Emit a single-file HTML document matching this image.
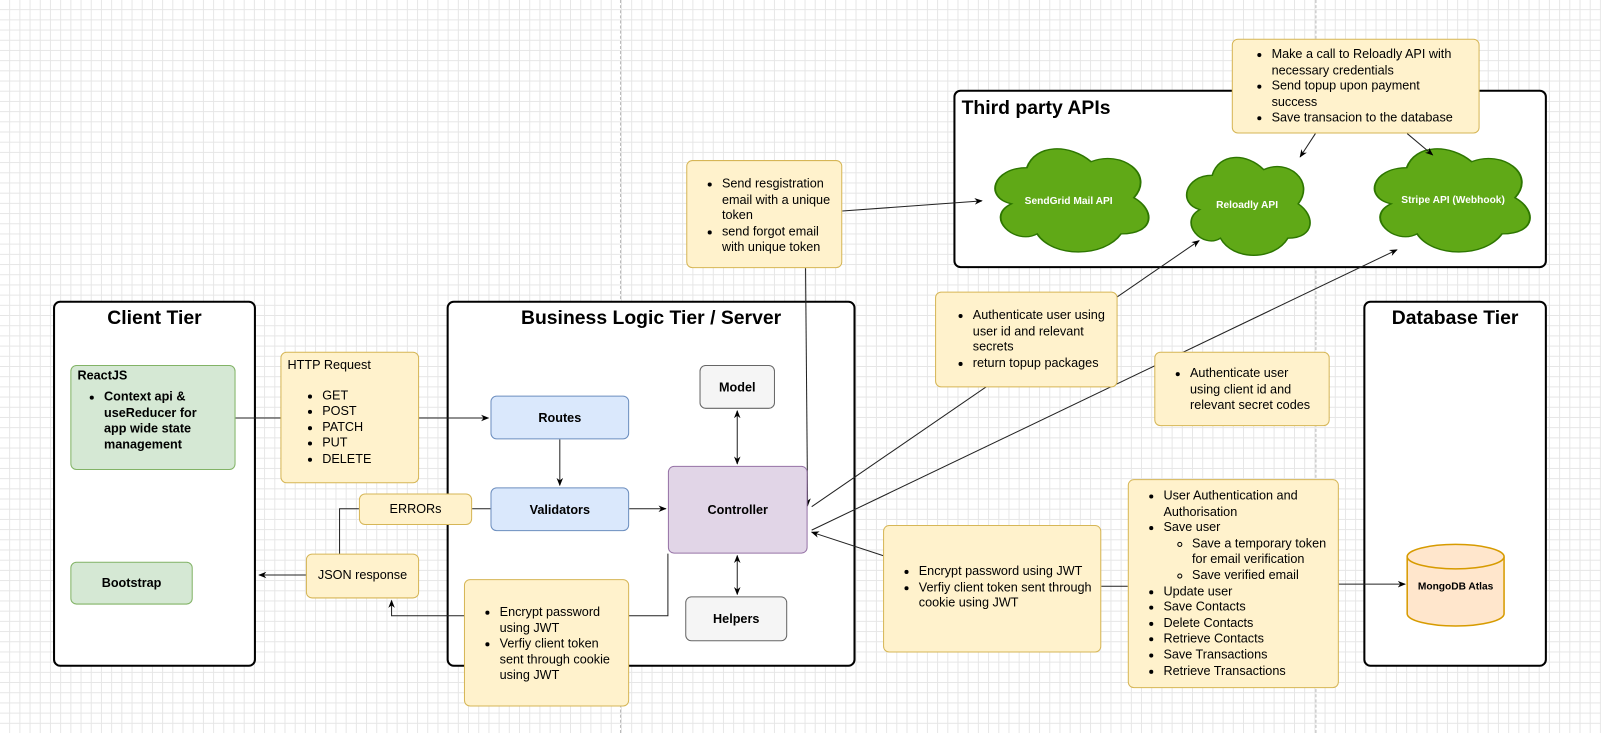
<!DOCTYPE html>
<html><head><meta charset="utf-8">
<style>
html,body{margin:0;padding:0;width:1601px;height:733px;overflow:hidden;background:#fff}
#c{position:absolute;left:0;top:0;width:1570px;height:719px;transform:scale(1.0197,1.0195);transform-origin:0 0;
background-color:#fff;
background-image:linear-gradient(to right,#e6e6e6 1px,transparent 1px),linear-gradient(to bottom,#e6e6e6 1px,transparent 1px);
background-size:10px 10px;background-position:-1px -1px;
font-family:"Liberation Sans",Arial,sans-serif;color:#000}
.b{position:absolute;box-sizing:border-box;border-radius:6px}
.tier{border:2px solid #000;background:#fff;border-radius:7px}
.tt{position:absolute;font-weight:bold;font-size:19px;white-space:nowrap}
.y{background:#fff2cc;border:1.5px solid #d6b656;font-size:12.4px;line-height:15.6px}
.g{background:#d5e8d4;border:1.5px solid #82b366;font-size:12.4px;font-weight:bold}
.bl{background:#dae8fc;border:1.5px solid #6c8ebf;font-size:12.4px;font-weight:bold}
.gr{background:#f5f5f5;border:1.5px solid #666;font-size:12.4px;font-weight:bold}
.pu{background:#e1d5e7;border:1.5px solid #9673a6;font-size:12.4px;font-weight:bold}
.ctr{display:flex;align-items:center;justify-content:center;text-align:center}
ul{margin:0;padding-left:30px}
ul ul{padding-left:28px;list-style:circle}
</style></head><body>
<div id="c">
<div style="position:absolute;left:608px;top:0;height:719px;border-left:1px dashed #bbb"></div>
<div style="position:absolute;left:1290px;top:0;height:719px;border-left:1px dashed #bbb"></div>

<div class="b tier" style="left:52px;top:295px;width:199px;height:359px"></div>
<div class="tt" style="left:52px;width:199px;text-align:center;top:302px">Client Tier</div>
<div class="b tier" style="left:438px;top:295px;width:401px;height:359px"></div>
<div class="tt" style="left:438px;width:401px;text-align:center;top:302px">Business Logic Tier / Server</div>
<div class="b tier" style="left:1337px;top:295px;width:180px;height:359px"></div>
<div class="tt" style="left:1337px;width:180px;text-align:center;top:302px">Database Tier</div>
<div class="b tier" style="left:935px;top:88px;width:582px;height:175px"></div>
<div class="tt" style="left:943px;top:96px">Third party APIs</div>

<svg style="position:absolute;left:0;top:0" width="1570" height="719">
<defs><marker id="a" viewBox="0 0 10 10" refX="9" refY="5" markerWidth="8" markerHeight="8" orient="auto-start-reverse"><path d="M0,1 L10,5 L0,9 L3,5z" fill="#000"/></marker>
<path id="cp" d="M0.25,0.25 C0.05,0.25 0,0.5 0.16,0.55 C0,0.66 0.18,0.9 0.31,0.8 C0.4,1 0.7,1 0.8,0.8 C1,0.8 1,0.6 0.875,0.5 C1,0.3 0.8,0.1 0.625,0.2 C0.5,0.05 0.3,0.05 0.25,0.25 Z"/>
</defs>
<g fill="#60a917" stroke="#2d7600">
<use href="#cp" transform="translate(965,135) scale(168,118)" stroke-width="0.011"/>
<use href="#cp" transform="translate(1155,144) scale(135,112)" stroke-width="0.012"/>
<use href="#cp" transform="translate(1337,135) scale(170,118)" stroke-width="0.011"/>
</g>
<g fill="#fff" font-family="Liberation Sans,Arial,sans-serif" font-size="10" font-weight="bold" text-anchor="middle">
<text x="1048" y="200">SendGrid Mail API</text>
<text x="1223" y="204">Reloadly API</text>
<text x="1425" y="199">Stripe API (Webhook)</text>
</g>
<g stroke="#222" stroke-width="1" fill="none">
<path d="M231,410 H479" marker-end="url(#a)"/>
<path d="M549,431 V476" marker-end="url(#a)"/>
<path d="M617,499 H653" marker-end="url(#a)"/>
<path d="M481,499 H463"/>
<path d="M352,499 H333 V552" marker-end="url(#a)"/>
<path d="M300,564 H254" marker-end="url(#a)"/>
<path d="M655,543 V604 H384 V589" marker-end="url(#a)"/>
<path d="M723,403 V455" marker-start="url(#a)" marker-end="url(#a)"/>
<path d="M723,545 V583" marker-start="url(#a)" marker-end="url(#a)"/>
<path d="M790,263 L792,496" marker-end="url(#a)"/>
<path d="M826,207 L963,197" marker-end="url(#a)"/>
<path d="M796,497 L1176,236" marker-end="url(#a)"/>
<path d="M796,520 L1370,245" marker-end="url(#a)"/>
<path d="M866,545 L796,522" marker-end="url(#a)"/>
<path d="M1080,575 H1106"/>
<path d="M1313,573 H1378" marker-end="url(#a)"/>
<path d="M1290,131 L1275,154" marker-end="url(#a)"/>
<path d="M1380,131 L1405,152" marker-end="url(#a)"/>
</g>
<g stroke="#d79b00" stroke-width="1.5" fill="#ffe6cc">
<path d="M1380,546 V602 A47.5,12 0 0 0 1475,602 V546"/>
<ellipse cx="1427.5" cy="546" rx="47.5" ry="12"/>
</g>
<text x="1427.5" y="578" font-family="Liberation Sans,Arial,sans-serif" font-size="10" font-weight="bold" text-anchor="middle">MongoDB Atlas</text>
</svg>

<div class="b g" style="left:69px;top:358px;width:162px;height:103px;padding:2px 14px 2px 6px">ReactJS<ul style="padding-left:26px;margin-top:7px;line-height:15.6px"><li>Context api &amp; useReducer for app wide state management</li></ul></div>
<div class="b g ctr" style="left:69px;top:551px;width:120px;height:42px">Bootstrap</div>

<div class="b y" style="left:275px;top:345px;width:136px;height:129px;padding:5px 6px">HTTP Request<ul style="margin-top:14px;padding-left:34px"><li>GET</li><li>POST</li><li>PATCH</li><li>PUT</li><li>DELETE</li></ul></div>

<div class="b bl ctr" style="left:481px;top:388px;width:136px;height:43px">Routes</div>
<div class="b bl ctr" style="left:481px;top:478px;width:136px;height:43px">Validators</div>
<div class="b gr ctr" style="left:686px;top:358px;width:74px;height:43px">Model</div>
<div class="b pu ctr" style="left:655px;top:457px;width:137px;height:86px">Controller</div>
<div class="b gr ctr" style="left:672px;top:585px;width:100px;height:44px">Helpers</div>

<div class="b y ctr" style="left:352px;top:484px;width:111px;height:31px">ERRORs</div>
<div class="b y ctr" style="left:300px;top:543px;width:111px;height:44px">JSON response</div>

<div class="b y" style="left:455px;top:568px;width:162px;height:125px;padding:24px 10px 0 4px"><ul style="padding-left:30px"><li>Encrypt password using JWT</li><li>Verfiy client token sent through cookie using JWT</li></ul></div>

<div class="b y" style="left:673px;top:157px;width:153px;height:106px;padding:15px 8px 0 4px"><ul style="padding-left:30px"><li>Send resgistration email with a unique token</li><li>send forgot email with unique token</li></ul></div>

<div class="b y" style="left:1208px;top:38px;width:243px;height:93px;padding:7px 10px 0 4px"><ul style="padding-left:34px"><li>Make a call to Reloadly API with necessary credentials</li><li>Send topup upon payment success</li><li>Save transacion to the database</li></ul></div>

<div class="b y" style="left:917px;top:286px;width:179px;height:94px;padding:15px 8px 0 4px"><ul style="padding-left:32px"><li>Authenticate user using user id and relevant secrets</li><li>return topup packages</li></ul></div>

<div class="b y" style="left:1132px;top:345px;width:172px;height:73px;padding:13px 12px 0 4px"><ul style="padding-left:30px"><li>Authenticate user using client id and relevant secret codes</li></ul></div>

<div class="b y" style="left:866px;top:515px;width:214px;height:125px;padding:37px 8px 0 4px"><ul style="padding-left:30px"><li>Encrypt password using JWT</li><li>Verfiy client token sent through cookie using JWT</li></ul></div>

<div class="b y" style="left:1106px;top:470px;width:207px;height:205px;padding:8px 4px 0 4px"><ul style="padding-left:30px"><li>User Authentication and Authorisation</li><li>Save user<ul><li>Save a temporary token for email verification</li><li>Save verified email</li></ul></li><li>Update user</li><li>Save Contacts</li><li>Delete Contacts</li><li>Retrieve Contacts</li><li>Save Transactions</li><li>Retrieve Transactions</li></ul></div>
</div>
</body></html>
